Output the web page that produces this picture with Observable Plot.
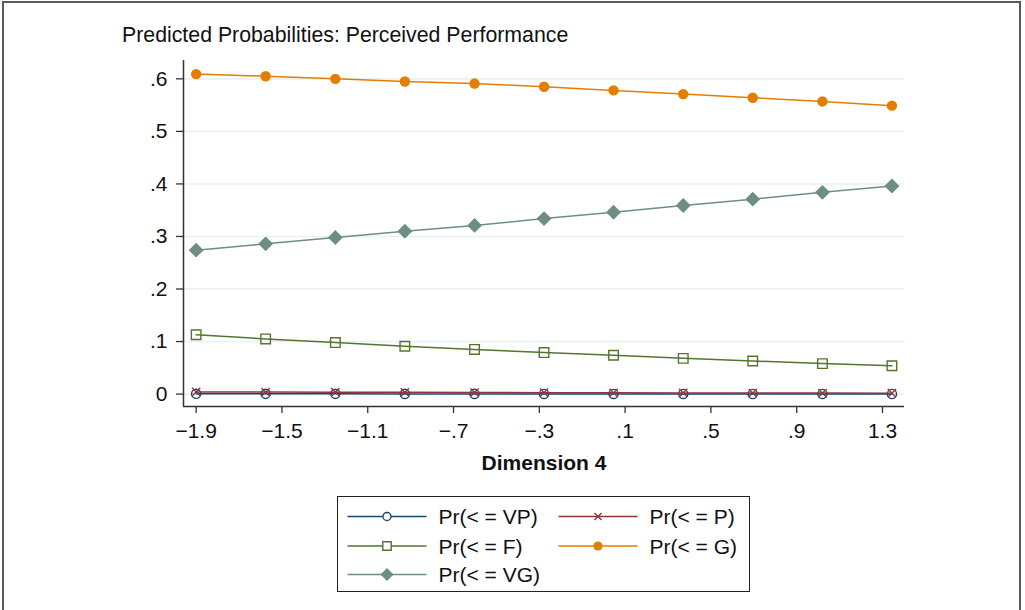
<!DOCTYPE html>
<html>
<head>
<meta charset="utf-8">
<script src="https://cdn.jsdelivr.net/npm/d3@7"></script>
<script src="https://cdn.jsdelivr.net/npm/@observablehq/plot@0.6"></script>
<style>
  html, body { margin: 0; padding: 0; background: #fff; }
  #page { position: relative; width: 1025px; height: 610px; overflow: hidden; font-family: "Liberation Sans", Arial, Helvetica, sans-serif; }
  #border { position: absolute; left: 2px; top: 1px; width: 1019px; height: 640px; border: 2px solid #5a5a5a; box-sizing: border-box; }
  #title { position: absolute; left: 122px; top: 25px; font-size: 21.3px; line-height: 21px; color: #111; white-space: nowrap; }
  #chart { position: absolute; left: 0; top: 0; }
  #legend { position: absolute; left: 337px; top: 496px; width: 413px; height: 96px; border: 1.5px solid #222; box-sizing: border-box; background: #fff; }
  #legend svg { position: absolute; left: -1.5px; top: -1.5px; }
</style>
</head>
<body>
<div id="page">
  <div id="border"></div>
  <div id="title">Predicted Probabilities: Perceived Performance</div>
  <div id="chart"></div>
  <div id="legend"></div>
</div>
<script>
// ---- data ----
const dimension4 = [-1.9, -1.576, -1.251, -0.927, -0.602, -0.278, 0.046, 0.371, 0.695, 1.020, 1.344];
const prVP = [0.0006, 0.0005, 0.0005, 0.0004, 0.0004, 0.0003, 0.0003, 0.0003, 0.0002, 0.0002, 0.0002];
const prP  = [0.0042, 0.0039, 0.0036, 0.0033, 0.0030, 0.0028, 0.0025, 0.0023, 0.0021, 0.0019, 0.0018];
const prF  = [0.113, 0.105, 0.098, 0.091, 0.085, 0.079, 0.074, 0.068, 0.063, 0.058, 0.054];
const prG  = [0.609, 0.605, 0.600, 0.595, 0.591, 0.585, 0.578, 0.571, 0.564, 0.557, 0.549];
const prVG = [0.274, 0.286, 0.298, 0.310, 0.321, 0.334, 0.346, 0.359, 0.371, 0.384, 0.396];
const seriesNames = ["Pr(< = VP)", "Pr(< = P)", "Pr(< = F)", "Pr(< = G)", "Pr(< = VG)"];
const xTicks = [-1.9, -1.5, -1.1, -0.7, -0.3, 0.1, 0.5, 0.9, 1.3];
const yTicks = [0, 0.1, 0.2, 0.3, 0.4, 0.5, 0.6];

// ---- styles ----
const seriesValues = [prVP, prP, prF, prG, prVG];
const seriesStyle = [
  {color: "#1a476f", symbol: "circle",   r: 4.6, filled: false},
  {color: "#90353b", symbol: "times",    r: 3.8, filled: false},
  {color: "#55752f", symbol: "square",   r: 5.4, filled: false},
  {color: "#e37e00", symbol: "circle",   r: 5.2, filled: true},
  {color: "#6e8e84", symbol: "diamond2", r: 6.7, filled: true}
];

const rows = seriesNames.flatMap((name, i) =>
  dimension4.map((x, j) => ({series: name, x, y: seriesValues[i][j]})));

const xDomain = [-1.959, 1.4026];
const yDomain = [-0.0236, 0.6349];

const fmtX = d => (d < 0 ? "\u2212" : "") + d3.format(".1f")(Math.abs(d)).replace(/^0\./, ".");
const fmtY = d => d === 0 ? "0" : d3.format(".1f")(d).replace(/^0\./, ".");

const seriesMarks = seriesNames.flatMap((name, i) => {
  const s = seriesStyle[i];
  const data = rows.filter(d => d.series === name);
  return [
    Plot.line(data, {x: "x", y: "y", stroke: s.color, strokeWidth: 1.5}),
    Plot.dot(data, {
      x: "x", y: "y", symbol: s.symbol, r: s.r,
      fill: s.filled ? s.color : "none",
      stroke: s.filled ? "none" : s.color,
      strokeWidth: s.filled ? 0 : 1.4
    })
  ];
});

const chart = Plot.plot({
  width: 1025,
  height: 480,
  marginLeft: 183,
  marginRight: 121,
  marginTop: 60,
  marginBottom: 74,
  style: {fontFamily: '"Liberation Sans", Arial, Helvetica, sans-serif', fontSize: "21px", color: "#111", background: "transparent", overflow: "visible"},
  x: {domain: xDomain},
  y: {domain: yDomain},
  marks: [
    Plot.gridY(yTicks, {stroke: "#e8f1f3", strokeOpacity: 1, strokeWidth: 1.6}),
    Plot.axisY(yTicks, {tickSize: 7, tickPadding: 9, tickFormat: fmtY, stroke: "#333", strokeWidth: 1.3, label: null, fontSize: 21}),
    Plot.axisX(xTicks, {tickSize: 7, tickPadding: 10, tickFormat: fmtX, stroke: "#333", strokeWidth: 1.3, label: null, fontSize: 21}),
    Plot.ruleX([xDomain[0]], {stroke: "#333", strokeWidth: 1.5}),
    Plot.ruleY([yDomain[0]], {stroke: "#333", strokeWidth: 1.5}),
    ...seriesMarks,
    Plot.text(["Dimension 4"], {frameAnchor: "bottom", dy: 63, fontWeight: "bold", fontSize: 21, fill: "#111"})
  ]
});
document.getElementById("chart").appendChild(chart);

// ---- legend ----
const legendPos = [
  {col: 0, row: 0}, {col: 1, row: 0},
  {col: 0, row: 1}, {col: 1, row: 1},
  {col: 0, row: 2}
];
const colX = [9, 220];
const rowY = [19, 48.5, 77];
const sampleW = 79;
const symbolMap = {circle: d3.symbolCircle, times: d3.symbolTimes, square: d3.symbolSquare, diamond2: d3.symbolDiamond2};
const lsvg = d3.select("#legend").append("svg").attr("width", 413).attr("height", 96)
  .style("font-family", '"Liberation Sans", Arial, Helvetica, sans-serif');
seriesNames.forEach((name, i) => {
  const s = seriesStyle[i];
  const p = legendPos[i];
  const x0 = colX[p.col] + 1.5, y0 = rowY[p.row] + 1.5;
  const g = lsvg.append("g");
  g.append("line").attr("x1", x0).attr("x2", x0 + sampleW).attr("y1", y0).attr("y2", y0)
    .attr("stroke", s.color).attr("stroke-width", 1.5);
  const rr = s.r * 0.88;
  g.append("path").attr("transform", `translate(${x0 + sampleW / 2},${y0})`)
    .attr("d", d3.symbol(symbolMap[s.symbol], Math.PI * rr * rr)())
    .attr("fill", s.filled ? s.color : "white")
    .attr("stroke", s.filled ? "none" : s.color).attr("stroke-width", 1.4);
  g.append("text").attr("x", x0 + 91).attr("y", y0).attr("dy", "0.36em")
    .attr("font-size", 21).attr("fill", "#111").text(name);
});
</script>
</body>
</html>
